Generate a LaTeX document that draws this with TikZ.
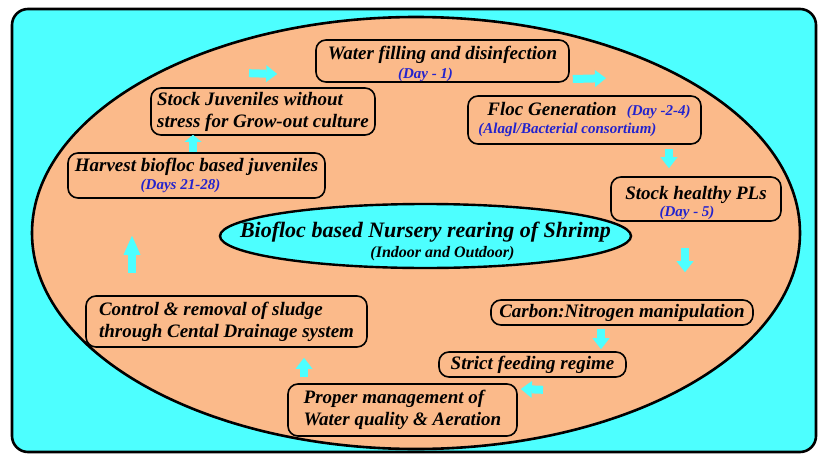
\documentclass[tikz,border=0pt]{standalone}
\usepackage{fontspec}
\setmainfont{Liberation Serif}
\usepackage{tikz}
\usetikzlibrary{arrows.meta}

\definecolor{aqua}{RGB}{77,255,255}
\definecolor{peach}{RGB}{251,186,138}
\definecolor{dayblue}{RGB}{35,35,205}
\newcommand{\dayfont}{\fontsize{15}{18}\selectfont\color{dayblue}}

\begin{document}
\begin{tikzpicture}[x=1pt,y=-1pt,
    stage node/.style={draw,line width=1.6pt,rounded corners=10pt,fill=peach,inner sep=0pt,
                       font=\fontsize{19}{22}\selectfont\bfseries\itshape},
    title node/.style={inner sep=0pt,align=center,font=\fontsize{22}{24}\selectfont\bfseries\itshape},
    flow/.style={draw=aqua,line width=8pt,-{Triangle[length=11pt,width=17pt,line width=0pt]}}]
  \useasboundingbox (0,0) rectangle (822,455);
  \draw[line width=2.6pt,rounded corners=16pt,fill=aqua] (12,9) rectangle (816,452);
  \draw[line width=2.6pt,fill=peach] (416,233) ellipse [x radius=384pt,y radius=216pt];
  \draw[line width=2.4pt,fill=aqua] (425.5,236) ellipse [x radius=205.5pt,y radius=32pt];

  \node[title node] (title) at (425.5,241)
    {Biofloc based Nursery rearing of Shrimp\\[-4pt]
     {\fontsize{16}{18}\selectfont\hspace*{34pt}(Indoor and Outdoor)}};

  \node[stage node,minimum width=253,minimum height=42,align=center,text height=36pt,text depth=2pt] (water) at (442.5,61)
    {Water filling and disinfection\\[-3pt]{\dayfont (Day - 1)}\hspace*{34pt}};
  \node[stage node,minimum width=233,minimum height=48,align=left] (floc) at (584.5,120)
    {\hspace*{9pt}Floc Generation\hspace{10pt}{\dayfont (Day -2-4)}\\[-4pt]{\dayfont (Alagl/Bacterial consortium)}};
  \node[stage node,minimum width=170,minimum height=44,align=center,text height=36pt,text depth=2pt] (pls) at (696,199)
    {Stock healthy PLs\\[-5pt]{\dayfont (Day - 5)}\hspace*{18pt}};
  \node[stage node,minimum width=262,minimum height=25] (carbon) at (622,312.5)
    {Carbon:Nitrogen manipulation};
  \node[stage node,minimum width=187,minimum height=25] (strict) at (532.5,364.5)
    {Strict feeding regime};
  \node[stage node,minimum width=229,minimum height=52,align=left] (proper) at (402.5,410)
    {Proper management of\\Water quality \& Aeration};
  \node[stage node,minimum width=281,minimum height=51,align=left] (control) at (226.5,321.5)
    {Control \& removal of sludge\\through Cental Drainage system};
  \node[stage node,minimum width=257,minimum height=45,align=center] (harvest) at (196.5,175.5)
    {Harvest biofloc based juveniles\\[-4pt]{\dayfont (Days 21-28)}\hspace*{32pt}};
  \node[stage node,minimum width=224,minimum height=47,align=left] (juv) at (263,111.5)
    {Stock Juveniles without\\stress for Grow-out culture};

  % cycle of arrows
  \draw[flow] ([shift={(-14,-14)}]juv.north) -- ([shift={(-38,13)}]water.west);
  \draw[flow] ([shift={(3,18)}]water.east) -- ([shift={(21.5,-17)}]floc.north);
  \draw[flow] ([shift={(84.5,4)}]floc.south) -- ([shift={(-27,-8)}]pls.north);
  \draw[flow] ([shift={(-11,26)}]pls.south) -- ([shift={(63,-27)}]carbon.north);
  \draw[flow] ([shift={(-21,3)}]carbon.south) -- ([shift={(68.5,-2)}]strict.north);
  \draw[flow] ([shift={(10.5,12)}]strict.south) -- ([shift={(3,-21)}]proper.east);
  \draw[flow] ([shift={(-98.5,-6)}]proper.north) -- ([shift={(77.5,10)}]control.south);
  \draw[flow,-{Triangle[length=19pt,width=17pt,line width=0pt]}] ([shift={(-94.5,-22)}]control.north) -- ([shift={(-64.5,37)}]harvest.south);
  \draw[flow,-{Triangle[length=7pt,width=17pt,line width=0pt]}] ([shift={(-3.5,0)}]harvest.north) -- ([shift={(-70,-1)}]juv.south);
\end{tikzpicture}
\end{document}
